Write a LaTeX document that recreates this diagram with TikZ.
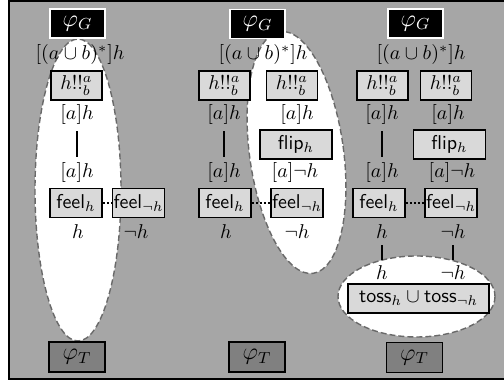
\documentclass[tikz,border=0pt]{standalone}
\usepackage{amsmath}
\definecolor{bggray}{RGB}{166,166,166}
\definecolor{boxgray}{RGB}{217,217,217}
\definecolor{tgray}{RGB}{128,128,128}
\definecolor{dashgray}{RGB}{105,105,105}
\newcommand{\sfw}[1]{\textsf{#1}}
\begin{document}
\begin{tikzpicture}[x=0.5pt,y=-0.5pt,
  box/.style={draw=black,line width=0.8pt,fill=boxgray,minimum height=14.5pt,inner sep=0pt},
  hbox/.style={box,minimum width=25.5pt},
  fbox/.style={box,minimum width=26pt},
  pbox/.style={box,minimum width=36pt},
  sbox/.style={box,minimum width=70.5pt},
  gbox/.style={draw=white,line width=0.6pt,fill=black,text=white,minimum width=27.5pt,minimum height=14.5pt,inner sep=0pt,font=\large},
  tbox/.style={draw=black,line width=0.8pt,fill=tgray,minimum width=28pt,minimum height=15pt,inner sep=0pt,font=\large},
  lab/.style={inner sep=3pt},
  conn/.style={line width=0.8pt},
  dots/.style={line width=1pt,dash pattern=on 1pt off 1pt},
  ell/.style={fill=white,draw=dashgray,line width=0.7pt,dash pattern=on 3pt off 1.5pt}]
\useasboundingbox (0,0) rectangle (504,383);
\clip (0,0) rectangle (504,383);
\fill[white] (0,0) rectangle (504,383);
\draw[fill=bggray,line width=1pt] (8.5,1) rectangle (520,379);
% ellipses
\draw[ell] (78,190) ellipse [x radius=43, y radius=151];
\draw[ell,rotate around={7.8:(296.5,152.5)}] (296.5,152.5) ellipse [x radius=47, y radius=122];
\draw[ell] (416.5,296.5) ellipse [x radius=78.5, y radius=40.5];
% column 1
\node[gbox] (G1) at (77.5,23.5) {$\varphi_G$};
\node[lab] (t1) at (80,55) {$[(a\cup b)^*]h$};
\node[hbox] (H1) at (76.5,85.5) {$h!!^a_b$};
\node[lab] (a1) at (77,115) {$[a]h$};
\node[lab] (a1b) at (77,173) {$[a]h$};
\node[fbox] (F1) at (76,203) {\sfw{feel}$_h$};
\node[fbox] (N1) at (138.5,203) {\sfw{feel}$_{\neg h}$};
\node[lab] (h1) at (78,232) {$h$};
\node[lab] (nh1) at (136,232) {$\neg h$};
\node[tbox] (T1) at (77,357) {$\varphi_T$};
\draw[conn] (a1) -- (a1b);
\draw[dots] (F1) -- (N1);
% column 2
\node[gbox] (G2) at (257.5,24) {$\varphi_G$};
\node[lab] (t2) at (263,55) {$[(a\cup b)^*]h$};
\node[hbox] (H2a) at (224.5,85.5) {$h!!^a_b$};
\node[hbox] (H2b) at (292,85.5) {$h!!^a_b$};
\node[lab] (a2) at (224,115) {$[a]h$};
\node[lab] (a2b) at (224,173) {$[a]h$};
\node[lab] (a2r) at (297,115) {$[a]h$};
\node[pbox] (P2) at (296,144.5) {\sfw{flip}$_h$};
\node[lab] (a2rb) at (295,173) {$[a]\neg h$};
\node[fbox] (F2) at (225,203) {\sfw{feel}$_h$};
\node[fbox] (N2) at (297,203) {\sfw{feel}$_{\neg h}$};
\node[lab] (h2) at (226,232) {$h$};
\node[lab] (nh2) at (297,232) {$\neg h$};
\node[tbox] (T2) at (257,357) {$\varphi_T$};
\draw[conn] (a2) -- (a2b);
\draw[dots] (F2) -- (N2);
% column 3
\node[gbox] (G3) at (415.5,23.5) {$\varphi_G$};
\node[lab] (t3) at (421,55) {$[(a\cup b)^*]h$};
\node[hbox] (H3a) at (382.5,85.5) {$h!!^a_b$};
\node[hbox] (H3b) at (446,85.5) {$h!!^a_b$};
\node[lab] (a3) at (382,115) {$[a]h$};
\node[lab] (a3b) at (382,173) {$[a]h$};
\node[lab] (a3r) at (448,115) {$[a]h$};
\node[pbox] (P3) at (449.5,144.5) {\sfw{flip}$_h$};
\node[lab] (a3rb) at (452,173) {$[a]\neg h$};
\node[fbox] (F3) at (379,203) {\sfw{feel}$_h$};
\node[fbox] (N3) at (451,203) {\sfw{feel}$_{\neg h}$};
\node[lab] (h3) at (382,232) {$h$};
\node[lab] (nh3) at (453,232) {$\neg h$};
\node[lab] (h3b) at (382,273) {$h$};
\node[lab] (nh3b) at (453,273) {$\neg h$};
\node[sbox] (S3) at (418.5,298.5) {\sfw{toss}$_h\cup{}$\sfw{toss}$_{\neg h}$};
\node[tbox] (T3) at (414.5,357.5) {$\varphi_T$};
\draw[conn] (a3) -- (a3b);
\draw[dots] (F3) -- (N3);
\draw[conn] (h3) -- (h3b);
\draw[conn] (nh3) -- (nh3b);
\end{tikzpicture}
\end{document}
